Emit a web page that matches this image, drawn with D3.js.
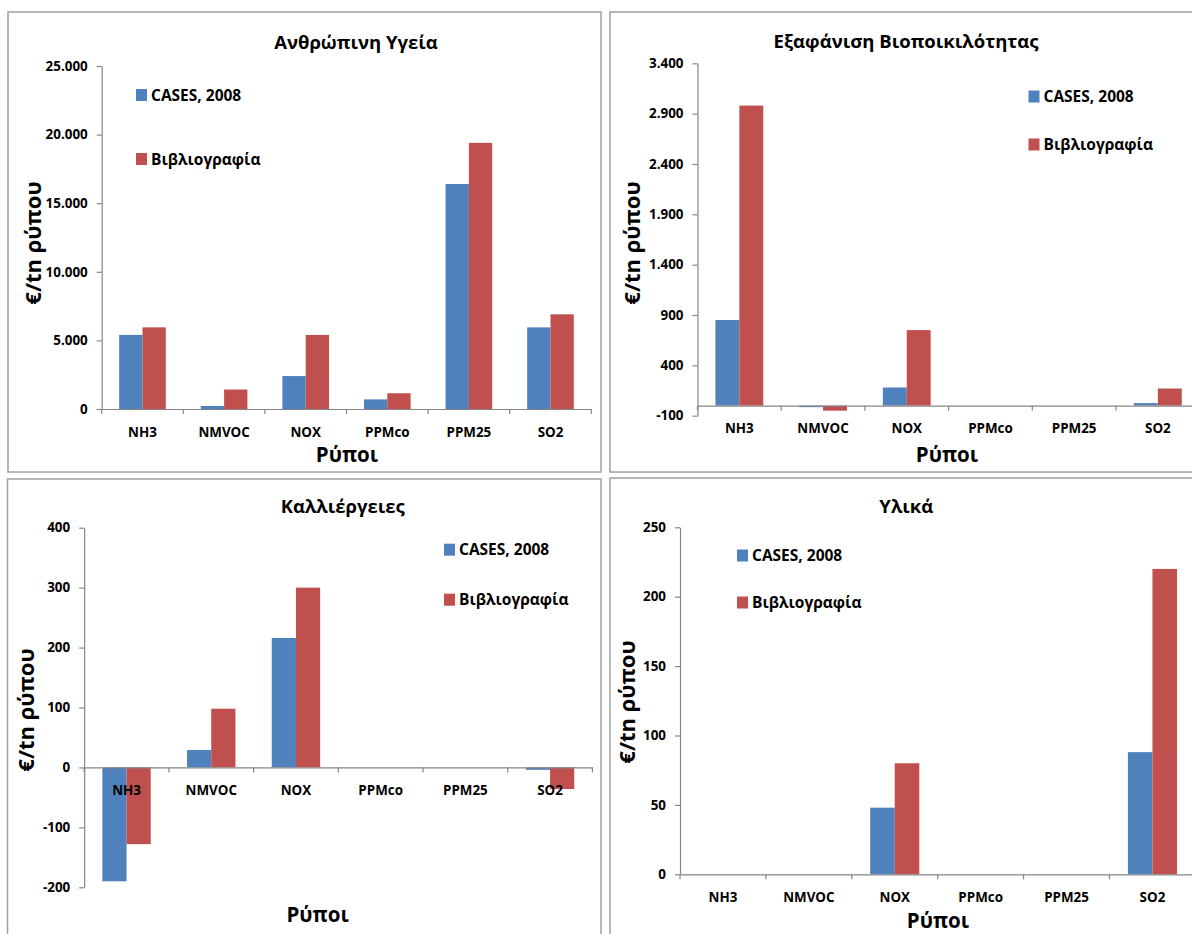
<!DOCTYPE html>
<html>
<head>
<meta charset="utf-8">
<script src="https://cdn.jsdelivr.net/npm/d3@7/dist/d3.min.js"></script>
<style>
  html, body { margin: 0; padding: 0; background: #fff; }
  svg { display: block; }
  text { font-family: "Open Sans", "Noto Sans", sans-serif; fill: #000; }
</style>
</head>
<body>
<svg id="chart" width="1192" height="934"></svg>
<script>
// ---------- DATA ----------
const categories = ["NH3", "NMVOC", "NOX", "PPMco", "PPM25", "SO2"];
const seriesNames = ["CASES, 2008", "Βιβλιογραφία"];
const panelTitles = ["Ανθρώπινη Υγεία", "Εξαφάνιση Βιοποικιλότητας", "Καλλιέργειες", "Υλικά"];
const yAxisTitle = "€/tn ρύπου";
const xAxisTitle = "Ρύποι";

const healthCases = [5400, 220, 2400, 700, 16400, 5950];
const healthLit   = [5950, 1420, 5400, 1150, 19400, 6900];
const bioCases    = [850, -15, 180, 0, 0, 25];
const bioLit      = [2980, -50, 750, 0, 0, 170];
const cropCases   = [-190, 29, 216, 0, 0, -4];
const cropLit     = [-128, 98, 300, 0, 0, -36];
const matCases    = [0, 0, 48, 0, 0, 88];
const matLit      = [0, 0, 80, 0, 0, 220];

const healthTicks = [0, 5000, 10000, 15000, 20000, 25000];
const bioTicks    = [-100, 400, 900, 1400, 1900, 2400, 2900, 3400];
const cropTicks   = [-200, -100, 0, 100, 200, 300, 400];
const matTicks    = [0, 50, 100, 150, 200, 250];

const seriesColors = ["#4F81BD", "#C0504D"];

// ---------- LAYOUT (positions only) ----------
const panels = [
  { title: panelTitles[0], series: [healthCases, healthLit], ticks: healthTicks,
    frame: [8, 12, 601, 472], x0: 101.7, x1: 591.3, yTop: 66, yBot: 409,
    titlePos: [356, 48.5], yLabelPos: [33, 243], xLabelPos: [347, 462],
    legend: [136, 95, 64] },
  { title: panelTitles[1], series: [bioCases, bioLit], ticks: bioTicks,
    frame: [610, 12, 1215, 472], x0: 697.5, x1: 1199.7, yTop: 63.3, yBot: 415.7,
    titlePos: [906, 48.3], yLabelPos: [632, 243], xLabelPos: [947, 462],
    legend: [1028.5, 96.5, 48] },
  { title: panelTitles[2], series: [cropCases, cropLit], ticks: cropTicks,
    frame: [7.5, 479, 601, 960], x0: 84.2, x1: 592.4, yTop: 527.7, yBot: 887.3,
    titlePos: [342.7, 512.7], yLabelPos: [26, 710], xLabelPos: [317.6, 921.7],
    legend: [444, 549.7, 50] },
  { title: panelTitles[3], series: [matCases, matLit], ticks: matTicks,
    frame: [610, 478, 1215, 960], x0: 680, x1: 1195.4, yTop: 527.3, yBot: 874.3,
    titlePos: [906.3, 513.3], yLabelPos: [627, 702], xLabelPos: [938, 927.5],
    legend: [737, 555.5, 47] }
];

const fmt = d3.formatLocale({ decimal: ",", thousands: ".", grouping: [3], currency: ["€", ""], minus: "-" }).format(",");
const axisColor = "#868686";

const svg = d3.select("#chart");

panels.forEach(p => {
  const g = svg.append("g");
  const [fx0, fy0, fx1, fy1] = p.frame;

  // frame
  g.append("rect")
    .attr("x", fx0).attr("y", fy0)
    .attr("width", fx1 - fx0).attr("height", fy1 - fy0)
    .attr("fill", "#fff").attr("stroke", "#a0a0a0").attr("stroke-width", 1.5);

  const yMin = d3.min(p.ticks), yMax = d3.max(p.ticks);
  const y = d3.scaleLinear().domain([yMin, yMax]).range([p.yBot, p.yTop]);
  const x = d3.scaleBand().domain(categories).range([p.x0, p.x1]).paddingInner(0).paddingOuter(0);
  const xs = d3.scaleBand().domain([0, 1]).range([0, x.step()]).paddingInner(0).paddingOuter(0.75);

  // bars
  p.series.forEach((vals, si) => {
    g.append("g").selectAll("rect")
      .data(categories.map((c, i) => ({ c, v: vals[i] })))
      .join("rect")
      .attr("x", d => x(d.c) + xs(si))
      .attr("width", xs.bandwidth())
      .attr("y", d => y(Math.max(0, d.v)))
      .attr("height", d => Math.abs(y(d.v) - y(0)))
      .attr("fill", seriesColors[si]);
  });

  // y axis
  const yAxis = d3.axisLeft(y).tickValues(p.ticks).tickFormat(fmt).tickSize(5).tickPadding(9).tickSizeOuter(0);
  const ya = g.append("g").attr("transform", `translate(${p.x0},0)`).call(yAxis);
  ya.select(".domain").attr("stroke", axisColor).attr("stroke-width", 1.2);
  ya.selectAll(".tick line").attr("stroke", axisColor).attr("stroke-width", 1.2);
  ya.selectAll(".tick text").attr("font-size", 13.4).attr("font-weight", 700)
    .attr("font-family", "'Open Sans', sans-serif").attr("fill", "#000");

  // x axis (category axis crossing at zero)
  const zeroY = y(0);
  const xAxis = d3.axisBottom(x).tickSize(0).tickPadding(0).tickSizeOuter(0);
  const xa = g.append("g").attr("transform", `translate(0,${zeroY})`).call(xAxis);
  xa.select(".domain").attr("stroke", axisColor).attr("stroke-width", 1.2);
  xa.selectAll(".tick text").attr("y", 23).attr("dy", "0.35em")
    .attr("font-size", 13.4).attr("font-weight", 700)
    .attr("font-family", "'Open Sans', sans-serif").attr("fill", "#000");
  // category boundary tick marks
  const bounds = d3.range(categories.length + 1).map(i => p.x0 + i * x.step());
  xa.append("g").selectAll("line").data(bounds).join("line")
    .attr("x1", d => d).attr("x2", d => d).attr("y1", 0).attr("y2", 5)
    .attr("stroke", axisColor).attr("stroke-width", 1.2);

  // title
  g.append("text").attr("x", p.titlePos[0]).attr("y", p.titlePos[1])
    .attr("text-anchor", "middle").attr("font-size", 18.5).attr("font-weight", 700)
    .text(p.title);

  // y axis title
  g.append("text")
    .attr("transform", `translate(${p.yLabelPos[0]},${p.yLabelPos[1]}) rotate(-90)`)
    .attr("text-anchor", "middle").attr("dy", "0.35em")
    .attr("font-size", 22).attr("font-weight", 700)
    .text(yAxisTitle);

  // x axis title
  g.append("text").attr("x", p.xLabelPos[0]).attr("y", p.xLabelPos[1])
    .attr("text-anchor", "middle").attr("font-size", 20.5).attr("font-weight", 700)
    .text(xAxisTitle);

  // legend
  const [lx, ly, lgap] = p.legend;
  seriesNames.forEach((name, si) => {
    const cy = ly + si * lgap;
    g.append("rect").attr("x", lx).attr("y", cy - 6).attr("width", 11).attr("height", 12)
      .attr("fill", seriesColors[si]);
    g.append("text").attr("x", lx + 15).attr("y", cy).attr("dy", "0.36em")
      .attr("font-size", 15.5).attr("font-weight", 700)
      .text(name);
  });
});
</script>
</body>
</html>
